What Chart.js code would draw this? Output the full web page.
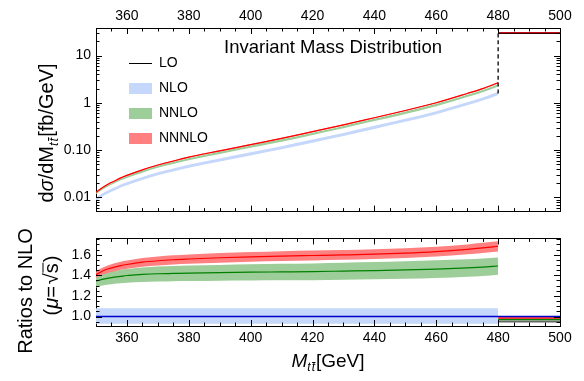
<!DOCTYPE html>
<html>
<head>
<meta charset="utf-8">
<script src="https://cdn.jsdelivr.net/npm/chart.js@4.4.0/dist/chart.umd.min.js"></script>
<style>
  html, body { margin: 0; padding: 0; background: #fff; }
  #wrap { position: relative; width: 584px; height: 381px; }
  canvas { position: absolute; left: 0; }
  #topChart { top: 0; }
  #botChart { top: 225px; }
</style>
</head>
<body>
<div id="wrap">
  <canvas id="topChart" width="584" height="225"></canvas>
  <canvas id="botChart" width="584" height="156"></canvas>
</div>
<script>
// ==================== DATA ====================

const mass = [350, 352, 354, 356, 358, 360, 365, 370, 375, 380, 390, 400, 410, 420, 430, 440, 450, 460, 470, 475, 480];

// NLO central value, fb/GeV
const nlo = [0.00912, 0.0112, 0.0132, 0.0151, 0.0174, 0.0195, 0.0251, 0.0316, 0.0380, 0.0457, 0.0617,
             0.0832, 0.112, 0.155, 0.214, 0.302, 0.427, 0.617, 0.955, 1.20, 1.58];

// NLO scale band relative to NLO
const nloBandLo = 0.93;
const nloBandHi = 1.08;

// ratios to NLO
const nnloRatio = [1.344, 1.36, 1.372, 1.382, 1.39, 1.398, 1.408, 1.415, 1.418, 1.421, 1.426,
                   1.43, 1.433, 1.436, 1.441, 1.446, 1.452, 1.46, 1.472, 1.48, 1.49];
const nnloLo = [1.28, 1.30, 1.31, 1.318, 1.323, 1.327, 1.335, 1.339, 1.342, 1.344, 1.347,
                1.349, 1.351, 1.353, 1.357, 1.361, 1.366, 1.373, 1.385, 1.393, 1.405];
const nnloHi = [1.41, 1.425, 1.436, 1.446, 1.455, 1.462, 1.476, 1.485, 1.49, 1.494, 1.501,
                1.507, 1.511, 1.515, 1.522, 1.528, 1.536, 1.545, 1.556, 1.563, 1.572];

const nnnloRatio = [1.405, 1.44, 1.463, 1.48, 1.494, 1.505, 1.527, 1.541, 1.551, 1.558, 1.57,
                    1.579, 1.586, 1.592, 1.598, 1.605, 1.615, 1.63, 1.652, 1.666, 1.682];
const nnnloLo = [1.375, 1.405, 1.425, 1.44, 1.453, 1.463, 1.483, 1.495, 1.504, 1.511, 1.522,
                 1.531, 1.538, 1.544, 1.55, 1.557, 1.567, 1.582, 1.603, 1.617, 1.632];
const nnnloHi = [1.435, 1.472, 1.497, 1.516, 1.531, 1.543, 1.567, 1.583, 1.594, 1.602, 1.616,
                 1.626, 1.634, 1.64, 1.646, 1.653, 1.663, 1.678, 1.7, 1.715, 1.73];

// last bin 480-500
const binMass = [480, 500];
const binNLO = 30.6;
const binNNLO = 29.9;
const binNNNLO = 30.3;
const binLO = 29.4;
const binRatioNNNLO = 0.986;
const binRatioNNLO = 0.972;
const binRatioLO = 0.952;

// dashed divider at 480
const dashMass = [480, 480];
const dashValue = [1.58, 38.2];

// axes
const xMin = 350, xMax = 500;
const xMajor = [360, 380, 400, 420, 440, 460, 480, 500];
const xMinorStep = 5;
const yTopMin = 0.00503, yTopMax = 38.2;
const yTopTicks = [0.01, 0.1, 1, 10];
const yTopLabels = ['0.01', '0.10', '1', '10'];
const yBotMin = 0.908, yBotMax = 1.758;
const yBotTicks = [1.0, 1.2, 1.4, 1.6];
const yBotLabels = ['1.0', '1.2', '1.4', '1.6'];

// ==================== HELPERS ====================

const FONT = '"Liberation Sans", Arial, sans-serif';
const BLUE_BAND = 'rgb(197, 215, 250)';
const GREEN_BAND = 'rgb(157, 205, 152)';
const RED_BAND = 'rgb(255, 128, 128)';

const pts = (xs, ys) => xs.map((x, i) => ({ x, y: ys[i] }));
const flat = (xs, v) => xs.map(x => ({ x, y: v }));

function band(xs, lo, hi, color, order) {
  return [
    { data: pts(xs, hi), fill: '+1', backgroundColor: color, borderWidth: 0, pointRadius: 0, order, cubicInterpolationMode: 'monotone' },
    { data: pts(xs, lo), fill: false, borderWidth: 0, pointRadius: 0, order, cubicInterpolationMode: 'monotone' }
  ];
}

function line(data, color, width, order, extra) {
  return Object.assign({ data, borderColor: color, borderWidth: width, pointRadius: 0, fill: false, order, cubicInterpolationMode: 'monotone' }, extra || {});
}

function fixedTicks(values) {
  return s => { s.ticks = values.map(v => ({ value: v })); };
}

function richText(ctx, parts, x0, y0, measureOnly) {
  let x = x0;
  parts.forEach(p => {
    ctx.font = p.font;
    const w = ctx.measureText(p.t).width;
    if (!measureOnly) {
      ctx.fillText(p.t, x, y0 + (p.dy || 0));
      if (p.bar) ctx.fillRect(x + 0.5, y0 + (p.dy || 0) - p.bar, w, 1);
    }
    x += w + (p.gap || 0);
  });
  return x - x0;
}

function rotatedTitle(ctx, parts, baseX, centerY) {
  ctx.save();
  const w = richText(ctx, parts, 0, 0, true);
  ctx.translate(baseX, centerY + w / 2);
  ctx.rotate(-Math.PI / 2);
  ctx.fillStyle = '#000';
  ctx.textBaseline = 'alphabetic';
  ctx.textAlign = 'left';
  richText(ctx, parts, 0, 0);
  ctx.restore();
}

// inward tick marks on all four sides
function frameTicksPlugin(yMajor, yMinor) {
  return {
    id: 'frameTicks',
    afterDraw(chart) {
      const { ctx, chartArea: a, scales } = chart;
      ctx.save();
      ctx.strokeStyle = '#000';
      ctx.lineWidth = 1;
      const seg = (x1, y1, x2, y2) => { ctx.beginPath(); ctx.moveTo(x1, y1); ctx.lineTo(x2, y2); ctx.stroke(); };
      for (let v = xMin + xMinorStep; v < xMax; v += xMinorStep) {
        const px = Math.round(scales.x.getPixelForValue(v)) + 0.5;
        const len = xMajor.includes(v) ? 6 : 3.5;
        seg(px, a.bottom, px, a.bottom - len);
        seg(px, a.top, px, a.top + len);
      }
      const tick = (v, len) => {
        const py = Math.round(scales.y.getPixelForValue(v)) + 0.5;
        if (py < a.top + 1 || py > a.bottom - 1) return;
        seg(a.left, py, a.left + len, py);
        seg(a.right, py, a.right - len, py);
      };
      yMajor.forEach(v => tick(v, 6));
      yMinor.forEach(v => tick(v, 3.5));
      ctx.restore();
    }
  };
}

function baseScales(yOpts, xTopLabels, xBottomLabels, sizes) {
  const xBase = {
    type: 'linear', min: xMin, max: xMax,
    grid: { display: false, drawTicks: false },
    border: { display: true, color: '#000', width: 1 },
    afterBuildTicks: fixedTicks(xMajor),
    ticks: { font: { family: FONT, size: 14 }, color: '#000', maxRotation: 0 }
  };
  return {
    x: Object.assign({}, xBase, {
      position: 'bottom',
      ticks: Object.assign({}, xBase.ticks, { display: xBottomLabels, padding: 4 }),
      afterFit: s => { s.height = sizes.bottom; }
    }),
    x2: Object.assign({}, xBase, {
      position: 'top',
      ticks: Object.assign({}, xBase.ticks, { display: xTopLabels, padding: 3 }),
      afterFit: s => { s.height = sizes.top; }
    }),
    y: Object.assign({}, yOpts, {
      position: 'left',
      grid: { display: false, drawTicks: false },
      border: { display: true, color: '#000', width: 1 },
      ticks: Object.assign({ font: { family: FONT, size: 14 }, color: '#000', padding: 5 }, yOpts.ticks),
      afterFit: s => { s.width = 96; }
    }),
    y2: Object.assign({}, yOpts, {
      position: 'right',
      grid: { display: false, drawTicks: false },
      border: { display: true, color: '#000', width: 1 },
      ticks: { display: false },
      afterFit: s => { s.width = 24; }
    })
  };
}

const commonOptions = {
  responsive: false,
  animation: false,
  events: [],
  layout: { padding: 0 },
  plugins: { legend: { display: false }, tooltip: { enabled: false } }
};

// ==================== TOP PANEL ====================

const logMinor = [];
[-3, -2, -1, 0, 1].forEach(d => { for (let k = 2; k <= 9; k++) logMinor.push(k * Math.pow(10, d)); });

const topDecor = {
  id: 'topDecor',
  afterDraw(chart) {
    const ctx = chart.ctx;
    ctx.save();
    ctx.fillStyle = '#000';
    ctx.font = '18.5px ' + FONT;
    ctx.textBaseline = 'alphabetic';
    ctx.fillText('Invariant Mass Distribution', 224, 53);

    // legend
    ctx.font = '14px ' + FONT;
    ctx.textBaseline = 'middle';
    ctx.strokeStyle = '#000';
    ctx.lineWidth = 1;
    ctx.beginPath(); ctx.moveTo(129, 63.5); ctx.lineTo(152, 63.5); ctx.stroke();
    ctx.fillText('LO', 159, 63.5);
    [['NLO', BLUE_BAND, 83], ['NNLO', GREEN_BAND, 108], ['NNNLO', RED_BAND, 133]].forEach(([t, c, y]) => {
      ctx.fillStyle = c;
      ctx.fillRect(129, y, 23, 11);
      ctx.fillStyle = '#000';
      ctx.fillText(t, 159, y + 5.5);
    });
    ctx.restore();

    const sub = 'italic 13px ' + FONT;
    rotatedTitle(ctx, [
      { t: 'd', font: '20px ' + FONT },
      { t: 'σ', font: 'italic 20px ' + FONT },
      { t: '/dM', font: '20px ' + FONT },
      { t: 't', font: sub, dy: 5, gap: 1 },
      { t: 't', font: sub, dy: 5, bar: 10, gap: 1 },
      { t: '[fb/GeV]', font: '20px ' + FONT }
    ], 53, 133);
  }
};

const topDatasets = [
  ...band(mass, nlo.map(v => v * nloBandLo), nlo.map(v => v * nloBandHi), BLUE_BAND, 10),
  ...band(mass, nlo.map((v, i) => v * nnloLo[i]), nlo.map((v, i) => v * nnloHi[i]), GREEN_BAND, 8),
  ...band(mass, nlo.map((v, i) => v * nnnloLo[i]), nlo.map((v, i) => v * nnnloHi[i]), RED_BAND, 6),
  line(pts(mass, nlo.map((v, i) => v * nnnloRatio[i])), '#ff0000', 1.2, 1),
  line(flat(binMass, binNLO), '#0000cc', 1, 5),
  line(flat(binMass, binNNLO), '#008000', 1, 4),
  line(flat(binMass, binLO), '#000000', 1.2, 3),
  line(flat(binMass, binNNNLO), '#ff0000', 1.2, 2),
  line(pts(dashMass, dashValue), '#000000', 1.3, 0, { borderDash: [4, 3] })
];

new Chart(document.getElementById('topChart'), {
  type: 'line',
  data: { datasets: topDatasets },
  options: Object.assign({}, commonOptions, {
    scales: baseScales({
      type: 'logarithmic', min: yTopMin, max: yTopMax,
      afterBuildTicks: fixedTicks(yTopTicks),
      ticks: { callback: (v, i) => yTopLabels[i] }
    }, true, false, { top: 28, bottom: 6 })
  }),
  plugins: [frameTicksPlugin(yTopTicks, logMinor), topDecor]
});

// ==================== BOTTOM PANEL ====================

const linMinor = [];
for (let v = 0.95; v < 1.76; v += 0.05) linMinor.push(Math.round(v * 100) / 100);

const botDecor = {
  id: 'botDecor',
  afterDraw(chart) {
    const ctx = chart.ctx;
    const big = '20px ' + FONT;
    rotatedTitle(ctx, [{ t: 'Ratios to NLO', font: big }], 32, 66);
    rotatedTitle(ctx, [
      { t: '(', font: big },
      { t: 'μ', font: 'italic 20px ' + FONT },
      { t: '=', font: big, gap: 2 },
      { t: '√', font: big },
      { t: 's', font: big, bar: 15, gap: 1 },
      { t: ')', font: big }
    ], 57.5, 60.5);

    ctx.save();
    ctx.fillStyle = '#000';
    const parts = [
      { t: 'M', font: 'italic 19px ' + FONT },
      { t: 't', font: 'italic 12px ' + FONT, dy: 4, gap: 1 },
      { t: 't', font: 'italic 12px ' + FONT, dy: 4, bar: 9, gap: 1 },
      { t: '[GeV]', font: '19px ' + FONT }
    ];
    const w = richText(ctx, parts, 0, 0, true);
    ctx.textBaseline = 'alphabetic';
    richText(ctx, parts, 328 - w / 2, 142);
    ctx.restore();
  }
};

const botDatasets = [
  ...band(mass, mass.map(() => nloBandLo), mass.map(() => nloBandHi), BLUE_BAND, 10),
  ...band(mass, nnloLo, nnloHi, GREEN_BAND, 8),
  ...band(mass, nnnloLo, nnnloHi, RED_BAND, 6),
  line(flat([xMin, xMax], 1.0), '#0000cc', 1.3, 1),
  line(pts(mass, nnloRatio), '#008000', 1.2, 2),
  line(pts(mass, nnnloRatio), '#ff0000', 1.2, 2),
  line(flat(binMass, binRatioNNNLO), '#ff0000', 1.5, 3),
  line(flat(binMass, binRatioNNLO), '#008000', 1.5, 3),
  line(flat(binMass, binRatioLO), '#666666', 2, 3)
];

new Chart(document.getElementById('botChart'), {
  type: 'line',
  data: { datasets: botDatasets },
  options: Object.assign({}, commonOptions, {
    scales: baseScales({
      type: 'linear', min: yBotMin, max: yBotMax,
      afterBuildTicks: fixedTicks(yBotTicks),
      ticks: { callback: (v, i) => yBotLabels[i] }
    }, false, true, { top: 6, bottom: 55 })
  }),
  plugins: [frameTicksPlugin(yBotTicks, linMinor), botDecor]
});
</script>
</body>
</html>
